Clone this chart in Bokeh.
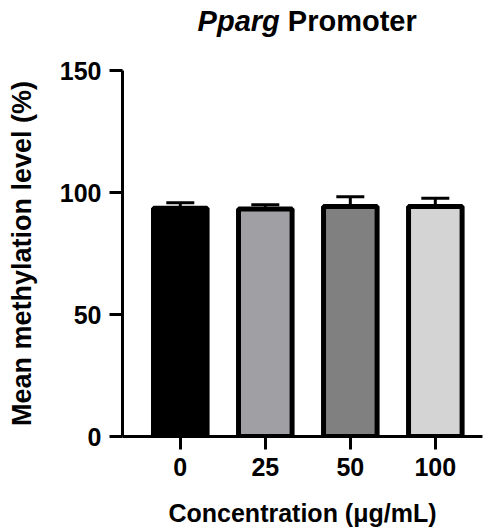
from bokeh.plotting import figure
from bokeh.models import ColumnDataSource, Range1d, FixedTicker, Whisker, TeeHead
from bokeh.layouts import column
from bokeh.core.properties import value
from bokeh.embed import file_html
from bokeh.resources import INLINE

categories = ["0", "25", "50", "100"]
means = [93.5, 93.2, 94.3, 94.3]
errors = [2.3, 1.8, 4.0, 3.3]
colors = ["#000000", "#a0a0a4", "#808080", "#d4d4d4"]
y_ticks = [0, 50, 100, 150]
title_italic = "Pparg"
title_rest = "Promoter"

xs = list(range(len(categories)))
upper = [m + e for m, e in zip(means, errors)]
src = ColumnDataSource(dict(x=xs, top=means, upper=upper, color=colors))

FONT = "Liberation Sans"
XR = (-0.68, 3.555)
W = 485

# title strip
t = figure(width=W, height=56, output_backend="svg", toolbar_location=None,
           x_range=Range1d(*XR), y_range=Range1d(0, 1),
           min_border_left=122, min_border_right=3, min_border_top=0, min_border_bottom=0)
t.axis.visible = False
t.grid.visible = False
t.outline_line_color = None
t.text(x=[1.17], y=[0.64], text=[title_italic], text_font=value(FONT), text_font_style="bold italic",
       text_font_size="29px", text_align="right", text_baseline="alphabetic", text_color="black")
t.text(x=[1.265], y=[0.64], text=[title_rest], text_font=value(FONT), text_font_style="bold",
       text_font_size="29px", text_align="left", text_baseline="alphabetic", text_color="black")

p = figure(width=W, height=473, output_backend="svg", toolbar_location=None,
           x_range=Range1d(*XR), y_range=Range1d(0, 150),
           min_border_left=122, min_border_right=3, min_border_top=14, min_border_bottom=92)
p.outline_line_color = None
p.grid.visible = False

p.vbar(x="x", top="top", bottom=0, width=0.63, fill_color="color",
       line_color="black", line_width=5, source=src)

w = Whisker(base="x", upper="upper", lower="top", source=src, line_width=3, line_color="black",
            upper_head=TeeHead(size=28, line_width=3, line_color="black"), lower_head=None)
p.add_layout(w)

for ax in (p.xaxis[0], p.yaxis[0]):
    ax.axis_line_width = 3
    ax.major_tick_line_width = 3
    ax.major_tick_out = 13
    ax.major_tick_in = 0
    ax.minor_tick_line_color = None
    ax.major_label_text_font = FONT
    ax.major_label_text_font_style = "bold"
    ax.major_label_text_font_size = "25px"
    ax.major_label_text_color = "black"
    ax.axis_label_text_font = FONT
    ax.axis_label_text_font_style = "bold"
    ax.axis_label_text_color = "black"
    ax.major_label_standoff = 8

p.xaxis.ticker = FixedTicker(ticks=xs)
p.xaxis.major_label_overrides = {i: c for i, c in zip(xs, categories)}
p.xaxis.axis_label = "Concentration (μg/mL)"
p.xaxis.axis_label_text_font_size = "25px"
p.xaxis.axis_label_standoff = 20

p.yaxis.ticker = FixedTicker(ticks=y_ticks)
p.yaxis.axis_label = "Mean methylation level (%)"
p.yaxis.axis_label_text_font_size = "27px"
p.yaxis.axis_label_standoff = 20

layout = column(t, p, spacing=0)
open("out.html", "w").write(file_html(layout, INLINE))
